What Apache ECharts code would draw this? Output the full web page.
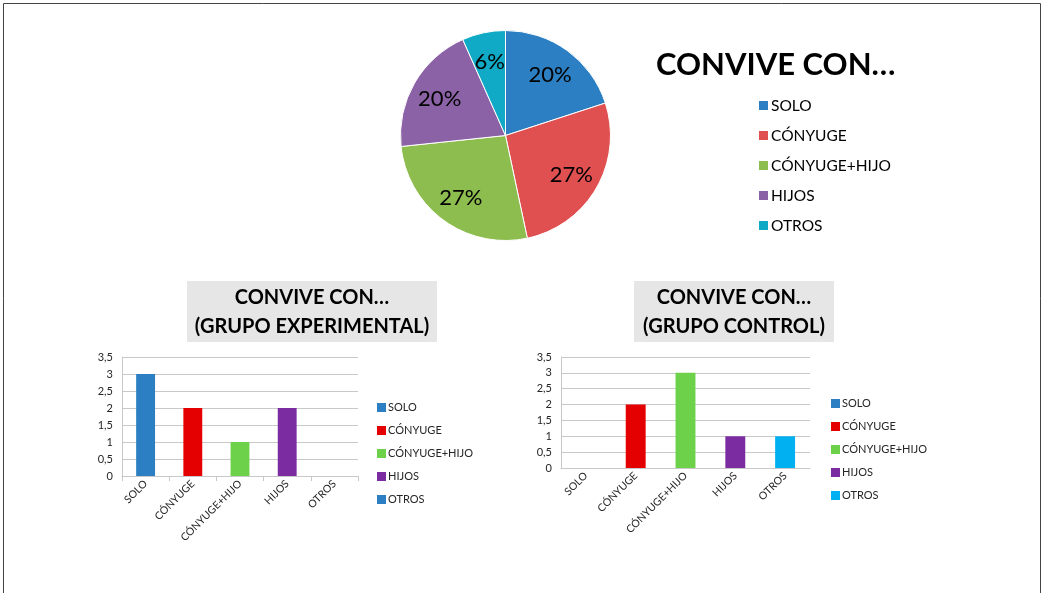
<!DOCTYPE html>
<html>
<head>
<meta charset="utf-8">
<script src="https://cdn.jsdelivr.net/npm/echarts@6/dist/echarts.min.js"></script>
<style>
  html, body { margin: 0; padding: 0; background: #fff; }
  #chart { width: 1043px; height: 593px; }
</style>
</head>
<body>
<div id="chart"></div>
<script>
// ---- data ----
const categories = ['SOLO', 'CÓNYUGE', 'CÓNYUGE+HIJO', 'HIJOS', 'OTROS'];
const pieValues = [3, 4, 4, 3, 1];
const expValues = [3, 2, 1, 2, 0];
const ctrlValues = [0, 2, 3, 1, 1];
const pieTitle = 'CONVIVE CON…';
const expTitle = 'CONVIVE CON…\n(GRUPO EXPERIMENTAL)';
const ctrlTitle = 'CONVIVE CON…\n(GRUPO CONTROL)';

// ---- styles ----
const pieColors = ['#2B7FC2', '#E05050', '#8DBC4F', '#8A62A5', '#10AAC6'];
const expColors = ['#2B7FC2', '#E40000', '#6ED14A', '#7B2CA0', '#2B7FC2'];
const ctrlColors = ['#2B7FC2', '#E40000', '#6ED14A', '#7B2CA0', '#00B0F0'];
const FONT = 'Lato';

const chart = echarts.init(document.getElementById('chart'));

function barSeries(prefix, values, colors, axisIdx) {
  return categories.map((c, i) => ({
    name: prefix + c,
    type: 'bar',
    stack: prefix,
    xAxisIndex: axisIdx,
    yAxisIndex: axisIdx,
    barWidth: '40%',
    itemStyle: { color: colors[i] },
    data: values.map((v, j) => (j === i ? v : '-')),
    silent: true
  }));
}

function xAxisCfg(gridIndex, ticks) {
  return {
    type: 'category', gridIndex, data: categories,
    axisLine: { lineStyle: { color: '#C8C8C8' } },
    axisTick: { show: ticks, length: 5, lineStyle: { color: '#C8C8C8' } },
    axisLabel: { rotate: 45, fontSize: 10.5, color: '#262626', fontFamily: FONT, margin: 6 }
  };
}
function yAxisCfg(gridIndex) {
  return {
    type: 'value', gridIndex, min: 0, max: 3.5, interval: 0.5,
    axisLine: { show: true, lineStyle: { color: '#C8C8C8' } },
    axisTick: { show: false },
    splitLine: { lineStyle: { color: '#C8C8C8' } },
    axisLabel: { fontSize: 11, color: '#262626', fontFamily: FONT, margin: 9,
      formatter: v => String(v).replace('.', ',') }
  };
}
function legendCfg(prefix, left, top) {
  return {
    orient: 'vertical', left, top, padding: 0,
    itemWidth: 9, itemHeight: 9, itemGap: 10, icon: 'rect',
    data: categories.map(c => prefix + c),
    formatter: n => n.slice(prefix.length),
    textStyle: { fontSize: 11, color: '#262626', fontFamily: FONT, lineHeight: 13, padding: [0, 0, 0, -3] },
    selectedMode: false
  };
}

const option = {
  animation: false,
  title: [
    { text: pieTitle, left: 656, top: 46, padding: 0,
      textStyle: { fontFamily: FONT, fontWeight: 'bold', fontSize: 31, color: '#000', lineHeight: 38 } },
    { text: expTitle, left: 312, top: 283, textAlign: 'center', padding: 0,
      textStyle: { fontFamily: FONT, fontWeight: 'bold', fontSize: 20, color: '#000', lineHeight: 29 } },
    { text: ctrlTitle, left: 734, top: 283, textAlign: 'center', padding: 0,
      textStyle: { fontFamily: FONT, fontWeight: 'bold', fontSize: 20, color: '#000', lineHeight: 29 } }
  ],
  graphic: [
    { type: 'rect', z: -10, shape: { x: 3.5, y: 3.5, width: 1037, height: 620 },
      style: { fill: 'none', stroke: '#444', lineWidth: 1 } },
    { type: 'rect', z: -10, shape: { x: 187, y: 281, width: 250, height: 61 }, style: { fill: '#E7E6E6' } },
    { type: 'rect', z: -10, shape: { x: 634, y: 281, width: 200, height: 61 }, style: { fill: '#E7E6E6' } }
  ],
  legend: [
    { orient: 'vertical', left: 757, top: 97, padding: 0, itemWidth: 11, itemHeight: 11, itemGap: 13, icon: 'rect',
      data: categories, selectedMode: false,
      textStyle: { fontSize: 15.5, color: '#000', fontFamily: FONT, lineHeight: 17, padding: [0, 0, 0, -3] } },
    legendCfg('e:', 377, 401),
    legendCfg('c:', 831, 397)
  ],
  grid: [
    { left: 122, top: 357, width: 236, height: 119 },
    { left: 561, top: 357, width: 249, height: 111 }
  ],
  xAxis: [xAxisCfg(0, true), xAxisCfg(1, false)],
  yAxis: [yAxisCfg(0), yAxisCfg(1)],
  series: [
    {
      type: 'pie', center: [505.5, 135.5], radius: 105, startAngle: 90, clockwise: true,
      label: { show: false }, labelLine: { show: false }, silent: true,
      itemStyle: { borderColor: '#fff', borderWidth: 1 },
      data: categories.map((c, i) => ({ name: c, value: pieValues[i], itemStyle: { color: pieColors[i] } }))
    },
    {
      type: 'pie', center: [505.5, 136.5], radius: [0, 146], startAngle: 90, clockwise: true,
      percentPrecision: 0, silent: true, z: 5,
      itemStyle: { color: 'rgba(0,0,0,0)' },
      labelLine: { show: false },
      label: { show: true, position: 'inside', formatter: '{d}%', color: '#000',
        fontSize: 22, fontFamily: FONT },
      data: categories.map((c, i) => ({ name: c, value: pieValues[i] }))
    },
    ...barSeries('e:', expValues, expColors, 0),
    ...barSeries('c:', ctrlValues, ctrlColors, 1)
  ]
};
chart.setOption(option);
</script>
</body>
</html>
